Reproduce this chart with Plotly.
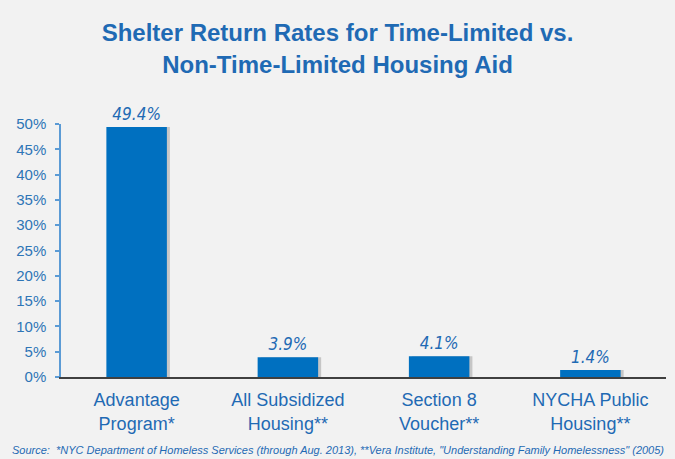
import plotly.graph_objects as go

categories = ["Advantage<br>Program*", "All Subsidized<br>Housing**", "Section 8<br>Voucher**", "NYCHA Public<br>Housing**"]
values = [49.4, 3.9, 4.1, 1.4]
value_labels = ["49.4%", "3.9%", "4.1%", "1.4%"]
y_ticks = [0, 5, 10, 15, 20, 25, 30, 35, 40, 45, 50]
y_tick_labels = [f"{v}%" for v in y_ticks]

BLUE_TEXT = "#1F6AB4"
BAR = "#0070C0"

fig = go.Figure()
# shadow
fig.add_trace(go.Bar(
    x=categories, y=values, width=0.4, offset=-0.2 + 0.02,
    marker=dict(color="rgba(0,0,0,0.18)", line=dict(width=0)),
    hoverinfo="skip", showlegend=False,
))
fig.add_trace(go.Bar(
    x=categories, y=values, width=0.4, offset=-0.2,
    marker=dict(color=BAR, line=dict(width=0)),
    text=value_labels, textposition="outside", cliponaxis=False,
    textfont=dict(family="DejaVu Sans Condensed, Liberation Sans Narrow, Liberation Sans", size=17, color=BLUE_TEXT, style="italic"),
    showlegend=False,
))

fig.update_layout(
    width=675, height=459,
    margin=dict(l=61, r=9, t=124, b=82),
    paper_bgcolor="#F2F2F2", plot_bgcolor="#F2F2F2",
    barmode="overlay",
    title=dict(
        text="<b>Shelter Return Rates for Time-Limited vs.<br>Non-Time-Limited Housing Aid</b>",
        x=0.5, xanchor="center", xref="container", y=0.91, yanchor="top", yref="container",
        font=dict(family="Liberation Sans", size=24, color=BLUE_TEXT),
    ),
    xaxis=dict(
        showline=True, linecolor="#404040", linewidth=1.5,
        ticks="", showgrid=False, ticklabelstandoff=6,
        tickfont=dict(family="Liberation Sans", size=18, color=BLUE_TEXT),
    ),
    yaxis=dict(
        range=[0, 50], tickvals=y_ticks, ticktext=y_tick_labels,
        showline=True, linecolor="#5B9BD5", linewidth=1.5,
        ticks="outside", ticklen=4, tickcolor="#5B9BD5", tickwidth=1.5,
        showgrid=False, zeroline=False, ticklabelstandoff=6,
        tickfont=dict(family="Liberation Sans", size=15, color="#2E75B6"),
    ),
)

fig.add_annotation(
    text="Source:  *NYC Department of Homeless Services (through Aug. 2013), **Vera Institute, \"Understanding Family Homelessness\" (2005)",
    xref="paper", yref="paper", x=0.5, y=-0.289, xanchor="center", yanchor="middle",
    showarrow=False, xshift=-26,
    font=dict(family="Liberation Sans", size=11, color=BLUE_TEXT, style="italic"),
)

fig.write_html("out.html", config={"displayModeBar": False},
               post_script="document.body.style.margin='0';")
